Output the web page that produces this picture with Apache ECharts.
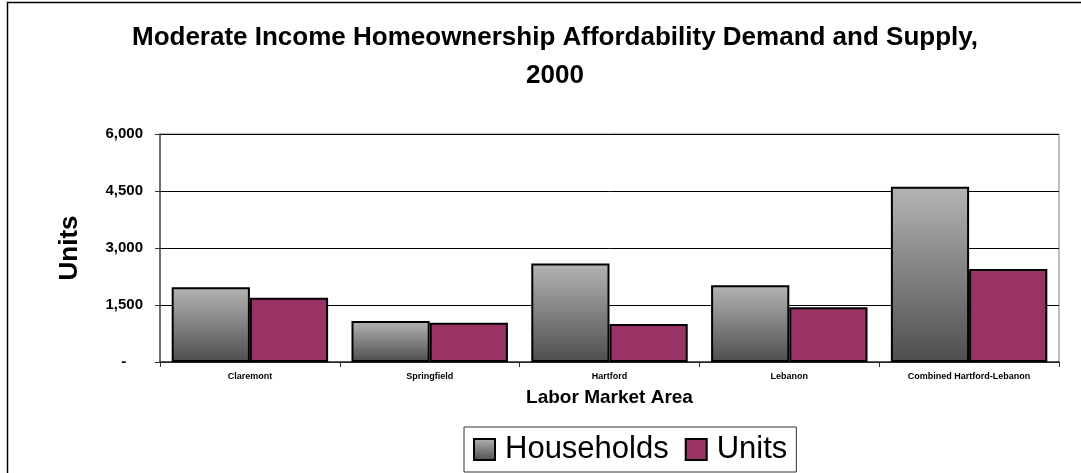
<!DOCTYPE html>
<html>
<head>
<meta charset="utf-8">
<script src="https://cdn.jsdelivr.net/npm/echarts@6/dist/echarts.min.js"></script>
<style>
html,body{margin:0;padding:0;background:#fff;}
#chart{width:1081px;height:473px;}
</style>
</head>
<body>
<div id="chart"></div>
<script>
var categories = ['Claremont', 'Springfield', 'Hartford', 'Lebanon', 'Combined Hartford-Lebanon'];
var households = [1970, 1080, 2590, 2020, 4610];
var units = [1690, 1030, 1000, 1440, 2445];
var yTicks = [0, 1500, 3000, 4500, 6000];

var FONT = '"Liberation Sans", Arial, sans-serif';
var chart = echarts.init(document.getElementById('chart'));
var grayGrad = new echarts.graphic.LinearGradient(0, 0, 0, 1, [
  {offset: 0, color: '#b4b4b4'},
  {offset: 1, color: '#4e4e4e'}
]);
chart.setOption({
  animation: false,
  backgroundColor: '#fff',
  title: {
    text: 'Moderate Income Homeownership Affordability Demand and Supply,\n2000',
    left: 550, top: 14, textAlign: 'center',
    textStyle: {fontFamily: FONT, fontWeight: 'bold', fontSize: 26, lineHeight: 38, color: '#000'}
  },
  graphic: [{
    type: 'rect', shape: {x: 7.5, y: 2.5, width: 1100, height: 500},
    style: {fill: 'none', stroke: '#000', lineWidth: 1.5}, silent: true, z: -1
  }],
  legend: {
    left: 464, top: 427,
    orient: 'horizontal',
    icon: 'rect',
    padding: [6, 9, 6, 9],
    itemWidth: 21, itemHeight: 21, itemGap: 16,
    borderColor: '#333', borderWidth: 1,
    textStyle: {fontFamily: FONT, fontSize: 31, lineHeight: 33, color: '#000', padding: [0, 0, 0, 5]},
    itemStyle: {borderColor: '#000', borderWidth: 2},
    data: ['Households', 'Units']
  },
  grid: {
    left: 160, right: 22, top: 134, bottom: 111,
    show: true, borderColor: '#808080', borderWidth: 1, backgroundColor: '#fff'
  },
  xAxis: {
    type: 'category', data: categories,
    name: 'Labor Market Area', nameLocation: 'middle', nameGap: 26,
    nameTextStyle: {fontFamily: FONT, fontWeight: 'bold', fontSize: 19, color: '#000'},
    axisLine: {lineStyle: {color: '#333', width: 1.5}},
    axisTick: {show: true, alignWithLabel: false, length: 5, lineStyle: {color: '#333'}},
    axisLabel: {fontFamily: FONT, fontWeight: 'bold', fontSize: 9, color: '#000', margin: 10, interval: 0}
  },
  yAxis: {
    type: 'value', min: 0, max: 6000, interval: 1500,
    name: 'Units', nameLocation: 'middle', nameGap: 77, nameRotate: 90,
    nameTextStyle: {fontFamily: FONT, fontWeight: 'bold', fontSize: 26, color: '#000'},
    axisLine: {show: true, lineStyle: {color: '#555', width: 1.5}},
    axisTick: {show: true, length: 5, lineStyle: {color: '#333'}},
    axisLabel: {
      fontFamily: FONT, fontWeight: 'bold', fontSize: 15, color: '#000', margin: 17,
      formatter: function (v) {
        if (v === 0) return '-\u00a0\u00a0\u00a0\u00a0';
        return v.toLocaleString('en-US');
      }
    },
    splitLine: {show: true, lineStyle: {color: '#000', width: 1}}
  },
  series: [{
    name: 'Households', type: 'bar', data: households,
    barGap: '0%', barCategoryGap: '13%',
    itemStyle: {color: grayGrad, borderColor: '#000', borderWidth: 2}
  }, {
    name: 'Units', type: 'bar', data: units,
    itemStyle: {color: '#993366', borderColor: '#000', borderWidth: 2}
  }]
});
</script>
</body>
</html>
